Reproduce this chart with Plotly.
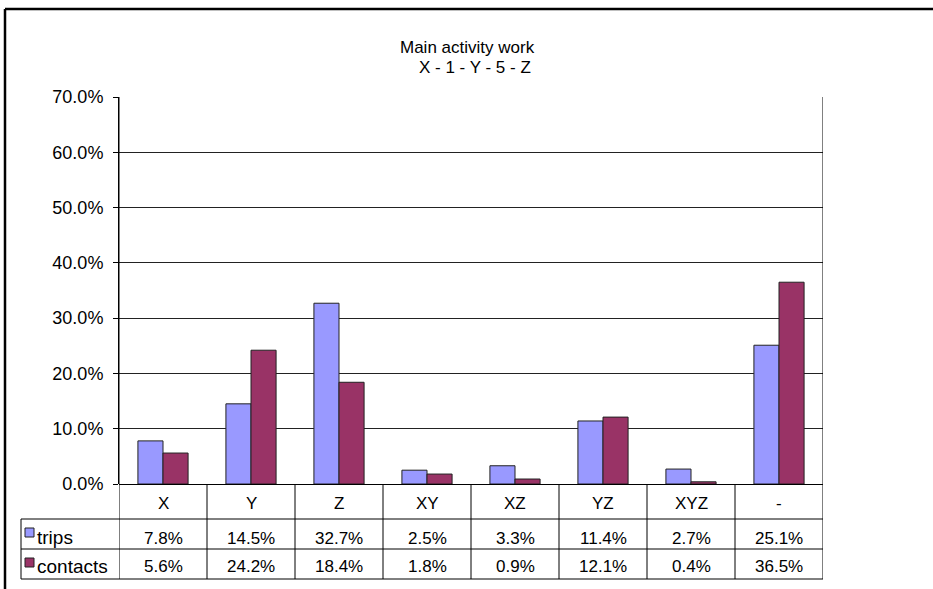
import plotly.graph_objects as go

# ---- data ----
categories = ["X", "Y", "Z", "XY", "XZ", "YZ", "XYZ", "-"]
trips = [7.8, 14.5, 32.7, 2.5, 3.3, 11.4, 2.7, 25.1]
contacts = [5.6, 24.2, 18.4, 1.8, 0.9, 12.1, 0.4, 36.5]
series_names = ["trips", "contacts"]
y_ticks = [0, 10, 20, 30, 40, 50, 60, 70]
title_lines = ["Main activity work", "X - 1 - Y - 5 - Z"]

# ---- layout geometry (pixels) ----
W, H = 933, 589
PLOT_L, PLOT_R = 119, 823
PLOT_T, ZERO_Y = 97, 484
HEADER_B, ROW1_B, TABLE_B = 519, 549, 579
TABLE_L = 21
FONT = "Arial, Liberation Sans, sans-serif"
COLORS = ["#9999FF", "#993366"]
EDGE = "#222222"


def px(x):
    """pixel x -> paper x"""
    return (x - PLOT_L) / (PLOT_R - PLOT_L)


def py(y):
    """pixel y -> paper y"""
    return (TABLE_B - y) / (TABLE_B - PLOT_T)


xs = list(range(len(categories)))

fig = go.Figure()
for name, vals, col in zip(series_names, [trips, contacts], COLORS):
    fig.add_trace(go.Bar(
        x=xs, y=vals, name=name,
        marker=dict(color=col, line=dict(color=EDGE, width=1)),
        showlegend=False, hoverinfo="y",
    ))

shapes = []
line_style = dict(color="black", width=1)

# column separators of the data table (and right border of the plot)
for i in range(len(categories) + 1):
    top = 1 if i in (0, len(categories)) else py(ZERO_Y)
    shapes.append(dict(type="line", xref="x", yref="paper",
                       x0=i - 0.5, x1=i - 0.5, y0=0, y1=top, line=line_style))

# row separators of the data table
for yy in (HEADER_B, ROW1_B, TABLE_B):
    shapes.append(dict(type="line", xref="paper", yref="paper",
                       x0=px(TABLE_L), x1=1, y0=py(yy), y1=py(yy), line=line_style))
shapes.append(dict(type="line", xref="paper", yref="paper",
                   x0=px(TABLE_L), x1=px(TABLE_L), y0=py(HEADER_B), y1=0, line=line_style))

# legend keys inside the table
key_rows = [(528, 537), (558, 567)]
for (k0, k1), col in zip(key_rows, COLORS):
    shapes.append(dict(type="rect", xref="paper", yref="paper",
                       x0=px(25), x1=px(34), y0=py(k1), y1=py(k0),
                       fillcolor=col, line=dict(color=EDGE, width=1)))

# outer chart frame
frame = dict(color="black", width=2.5)
shapes.append(dict(type="line", xref="paper", yref="paper",
                   x0=px(5), x1=px(5), y0=py(9), y1=py(620), line=frame))
shapes.append(dict(type="line", xref="paper", yref="paper",
                   x0=px(5), x1=px(960), y0=py(9), y1=py(9), line=frame))

annotations = []
txt_font = dict(family=FONT, size=17, color="black")
title_font = dict(family=FONT, size=17, color="black")

# title
annotations.append(dict(text=title_lines[0], xref="paper", yref="paper",
                        x=px(467), y=py(48), xanchor="center", yanchor="middle",
                        showarrow=False, font=title_font))
annotations.append(dict(text=title_lines[1], xref="paper", yref="paper",
                        x=px(475), y=py(67), xanchor="center", yanchor="middle",
                        showarrow=False, font=title_font))

# table: category header and values
for xi, cat, t, c in zip(xs, categories, trips, contacts):
    annotations.append(dict(text=cat, xref="x", yref="paper", x=xi, y=py(503),
                            xanchor="center", yanchor="middle", showarrow=False, font=txt_font))
    annotations.append(dict(text=f"{t:.1f}%", xref="x", yref="paper", x=xi, y=py(538),
                            xanchor="center", yanchor="middle", showarrow=False, font=txt_font))
    annotations.append(dict(text=f"{c:.1f}%", xref="x", yref="paper", x=xi, y=py(566),
                            xanchor="center", yanchor="middle", showarrow=False, font=txt_font))

# series names in the legend column
for name, yy in zip(series_names, (537, 566)):
    annotations.append(dict(text=name, xref="paper", yref="paper", x=px(35), y=py(yy),
                            xanchor="left", yanchor="middle", showarrow=False,
                            font=dict(family=FONT, size=19, color="black")))

fig.update_layout(
    width=W, height=H,
    margin=dict(l=PLOT_L, r=W - PLOT_R, t=PLOT_T, b=H - TABLE_B, pad=0,
                autoexpand=False),
    paper_bgcolor="white", plot_bgcolor="white",
    barmode="group", bargap=0.43, bargroupgap=0,
    shapes=shapes, annotations=annotations,
    font=dict(family=FONT, size=17, color="black"),
    xaxis=dict(range=[-0.5, len(categories) - 0.5], showticklabels=False,
               showgrid=False, zeroline=False, showline=False, ticks="",
               automargin=False, fixedrange=True),
    yaxis=dict(domain=[py(ZERO_Y), 1], range=[0, 70], tickvals=y_ticks,
               ticktext=[f"{v:.1f}%" for v in y_ticks],
               showgrid=True, gridcolor="#222222", gridwidth=1,
               zeroline=True, zerolinecolor="black", zerolinewidth=1,
               showline=True, linecolor="black", linewidth=1,
               ticks="outside", ticklen=5, tickcolor="black",
               ticklabelstandoff=6, automargin=False,
               tickfont=dict(family=FONT, size=18, color="black"),
               fixedrange=True),
)

fig.write_html("out.html")
